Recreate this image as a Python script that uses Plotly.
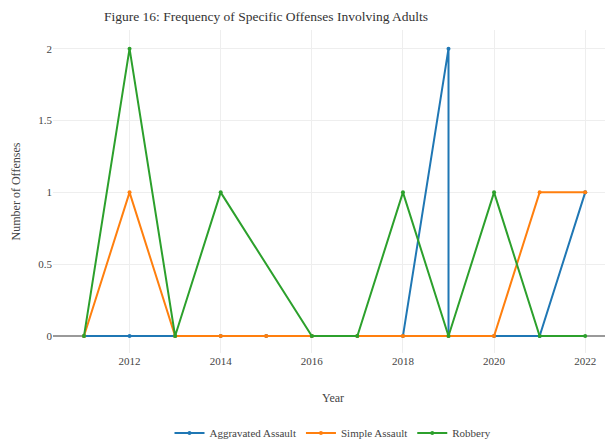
import plotly.graph_objects as go

years_agg = [2011, 2012, 2013, 2014, 2015, 2016, 2017, 2018, 2019, 2019, 2020, 2021, 2022]
agg = [0, 0, 0, 0, 0, 0, 0, 0, 2, 0, 0, 0, 1]

years_simple = [2011, 2012, 2013, 2014, 2015, 2016, 2017, 2018, 2019, 2020, 2021, 2022]
simple = [0, 1, 0, 0, 0, 0, 0, 0, 0, 0, 1, 1]

years_rob = [2011, 2012, 2013, 2014, 2016, 2017, 2018, 2019, 2020, 2021, 2022]
rob = [0, 2, 0, 1, 0, 0, 1, 0, 1, 0, 0]

series = [
    ("Aggravated Assault", years_agg, agg, "#1f77b4"),
    ("Simple Assault", years_simple, simple, "#ff7f0e"),
    ("Robbery", years_rob, rob, "#2ca02c"),
]

fig = go.Figure()
for name, x, y, c in series:
    fig.add_trace(go.Scatter(x=x, y=y, name=name, mode="lines+markers",
                             line=dict(color=c, width=2), marker=dict(size=4, color=c)))

font = "Liberation Serif"
fig.update_layout(
    template="plotly_white",
    width=605, height=434,
    margin=dict(l=45, r=0, t=22, b=89),
    font=dict(family=font, size=11, color="#444"),
    title=dict(text="Figure 16: Frequency of Specific Offenses Involving Adults",
               x=258/605, xanchor="center", y=0.982, yanchor="middle",
               font=dict(family=font, size=13.5, color="#333")),
    xaxis=dict(title=dict(text="Year", font=dict(family=font, size=12), standoff=27),
               range=[2010.32, 2022.61],
               dtick=2, tick0=2012, showgrid=True, gridcolor="#eee", zeroline=False,
               tickfont=dict(family=font, size=11), automargin=False),
    yaxis=dict(title=dict(text="Number of Offenses", font=dict(family=font, size=12)), range=[-0.118, 2.13],
               dtick=0.5, gridcolor="#eee", zeroline=True, zerolinecolor="#999", zerolinewidth=1.5,
               tickfont=dict(family=font, size=11), automargin=False),
    legend=dict(orientation="h", x=0.5, xanchor="center", yref="container", y=9/434, yanchor="middle",
                font=dict(family=font, size=11)),
)
fig.write_html("out.html")
